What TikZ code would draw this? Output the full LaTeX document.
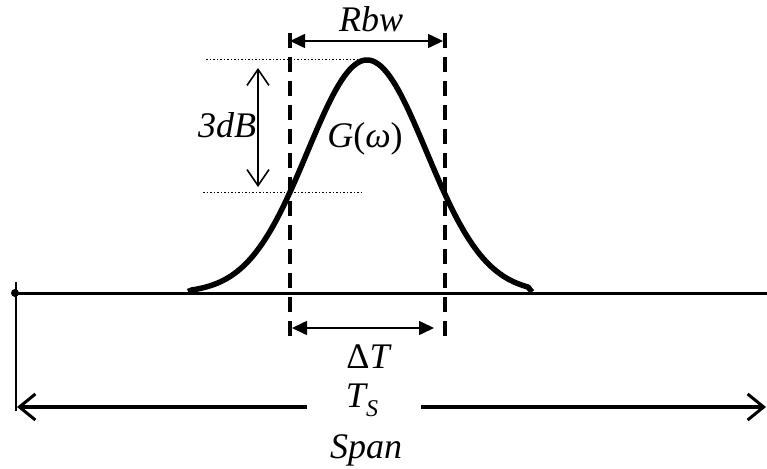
\documentclass[tikz,border=0pt]{standalone}
\usepackage{fontspec}
\setmainfont{Liberation Serif}
\usetikzlibrary{arrows.meta}
\begin{document}
\begin{tikzpicture}[x=1pt,y=-1pt,
  lbl/.style={font=\fontsize{36}{40}\selectfont\itshape, inner sep=0pt},
  dimfill/.style={line width=1.6pt, {Triangle[length=15pt,width=14pt]}-{Triangle[length=15pt,width=14pt]}},
  dimopen/.style={line width=1.4pt, {Straight Barb[length=16pt,width=22pt,line width=1.6pt]}-{Straight Barb[length=16pt,width=22pt,line width=1.6pt]}},
  dashv/.style={line width=3.6pt, dash pattern=on 15pt off 9pt},
  dotl/.style={line width=1pt, dash pattern=on 1.5pt off 2pt}]
\useasboundingbox (0,0) rectangle (767,468);
% coordinates
\coordinate (b0) at (15,293);
\coordinate (b1) at (767,293);
\coordinate (lv0) at (290,30);
\coordinate (lv1) at (290,342);
\coordinate (rv0) at (445,30);
\coordinate (rv1) at (445,342);
\coordinate (rb0) at (290,41);
\coordinate (rb1) at (443,41);
\coordinate (dt0) at (292,328);
\coordinate (dt1) at (434,328);
\coordinate (db0) at (258,68);
\coordinate (db1) at (258,187);
\coordinate (t0) at (206,60);
\coordinate (t1) at (360,60);
\coordinate (h0) at (203,192);
\coordinate (h1) at (362,192);
\coordinate (sv0) at (16,282);
\coordinate (sv1) at (16,411);
\coordinate (sl) at (17,407);
\coordinate (sr) at (766,407);
% text
\node[lbl, anchor=base] (rbw) at (371,32) {Rbw};
\node[lbl, anchor=base] (db) at (227,137) {3dB};
\node[lbl, anchor=base] (g) at (365,147) {G\textup{(}ω\textup{)}};
\node[lbl, anchor=base] (dt) at (368,368) {\textup{Δ}T};
\node[lbl, anchor=base] (ts) at (362,407) {T\raisebox{-9pt}{\fontsize{24}{26}\selectfont S}};
\node[lbl, anchor=base] (span) at (366,458) {Span};
% base line
\draw[line width=3pt] (b0) -- (b1);
\fill (b0) circle (4);
\draw[line width=1.4pt] (sv0) -- (sv1);
% gaussian
\draw[line width=5.5pt, line join=round] (188,291.5) -- plot[domain=192:528, samples=120] (\x, {293-233*exp(-0.5*((\x-367)/59.5)^2)}) -- (532,292);
% dashed verticals
\draw[dashv, dash phase=-3pt] (lv0) -- (lv1);
\draw[dashv, dash phase=-3pt] (rv0) -- (rv1);
% dotted
\draw[dotl] (t0) -- (t1);
\draw[dotl] (h0) -- (h1);
% dimension arrows
\draw[dimfill] (rb0) -- (rb1);
\draw[dimfill] (dt0) -- (dt1);
\draw[dimopen] (db0) -- (db1);
\draw[line width=3.2pt, {Straight Barb[length=16pt,width=26pt,line width=3pt]}-] (sl) -- (307,407);
\draw[line width=3.2pt, -{Straight Barb[length=16pt,width=26pt,line width=3pt]}] (421,407) -- (sr);
\end{tikzpicture}
\end{document}
